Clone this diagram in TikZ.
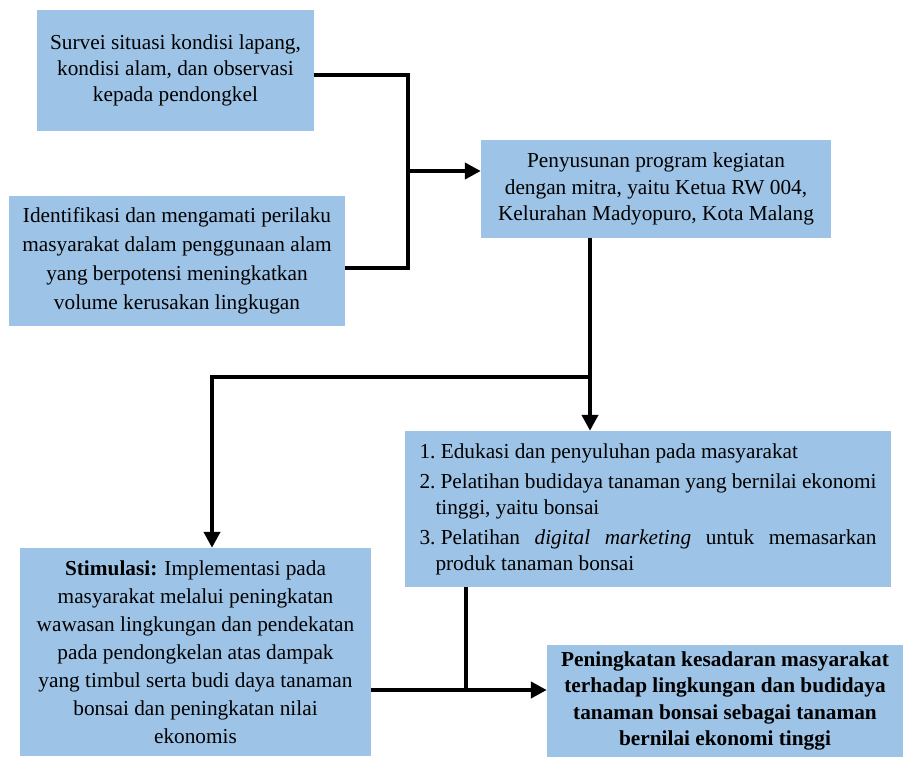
\documentclass[tikz,border=0pt]{standalone}
\usepackage{fontspec}
\setmainfont{Liberation Serif}
\usetikzlibrary{arrows.meta}
\definecolor{boxblue}{RGB}{157,195,230}
\begin{document}
\begin{tikzpicture}[x=1pt,y=-1pt,
 box/.style={fill=boxblue, inner sep=0pt, align=center},
 fnt/.style={font={\fontsize{21.3}{#1}\selectfont}},
 bfnt/.style={font={\fontsize{21.3}{#1}\selectfont\bfseries}},
 conn/.style={line width=4.5pt},
 arr/.style={line width=4.5pt, -{Triangle[length=16pt,width=16pt]}}]
\useasboundingbox (0,0) rectangle (903,760);
% boxes
\node[box, fnt=26, minimum width=277, minimum height=121] (A) at (175.5,70.5)
 {Survei situasi kondisi lapang,\\kondisi alam, dan observasi\\kepada pendongkel};
\node[box, fnt=29, minimum width=336, minimum height=130] (B) at (177,261)
 {Identifikasi dan mengamati perilaku\\masyarakat dalam penggunaan alam\\yang berpotensi meningkatkan\\volume kerusakan lingkugan};
\node[box, fnt=26.5, minimum width=350, minimum height=98] (C) at (656,189)
 {Penyusunan program kegiatan\\dengan mitra, yaitu Ketua RW 004,\\Kelurahan Madyopuro, Kota Malang};
\node[box, fnt=26, minimum width=486, minimum height=156] (D) at (648,509)
 {\begin{minipage}{457pt}
 \leavevmode\hbox to 457pt{1.~Edukasi dan penyuluhan pada masyarakat\hfil}\par\vspace{4pt}
 \hbox to 457pt{2.~Pelatihan budidaya tanaman yang bernilai ekonomi\hfil}\par
 \hbox to 457pt{\hspace*{16pt}tinggi, yaitu bonsai\hfil}\par\vspace{4pt}
 \hbox to 457pt{3.~Pelatihan\hfill\textit{digital}\hfill\textit{marketing}\hfill untuk\hfill memasarkan}\par
 \hbox to 457pt{\hspace*{16pt}produk tanaman bonsai\hfil}
 \end{minipage}};
\node[box, fnt=28, minimum width=351, minimum height=208] (E) at (195.5,652)
 {\textbf{Stimulasi:} Implementasi pada\\masyarakat melalui peningkatan\\wawasan lingkungan dan pendekatan\\pada pendongkelan atas dampak\\yang timbul serta budi daya tanaman\\bonsai dan peningkatan nilai\\ekonomis};
\node[box, bfnt=26.3, minimum width=356, minimum height=112] (F) at (725,701)
 {Peningkatan kesadaran masyarakat\\terhadap lingkungan dan budidaya\\tanaman bonsai sebagai tanaman\\bernilai ekonomi tinggi};
% junctions
\coordinate (j1) at (408,75);
\coordinate (j2) at (408,268);
\coordinate (j3) at (408,171);
\coordinate (j4) at (590,377);
\coordinate (j5) at (212,377);
\coordinate (j6) at (466,690);
% connectors
\draw[conn] (A.east |- j1) -- (j1) -- (j2) -- (B.east |- j2);
\draw[arr] (j3) -- (C.west |- j3);
\draw[arr] (C.south -| j4) -- (D.north -| j4);
\draw[arr] (j4) -- (j5) -- (E.north -| j5);
\draw[conn] (D.south -| j6) -- (j6);
\draw[arr] (E.east |- j6) -- (F.west |- j6);
\end{tikzpicture}
\end{document}
